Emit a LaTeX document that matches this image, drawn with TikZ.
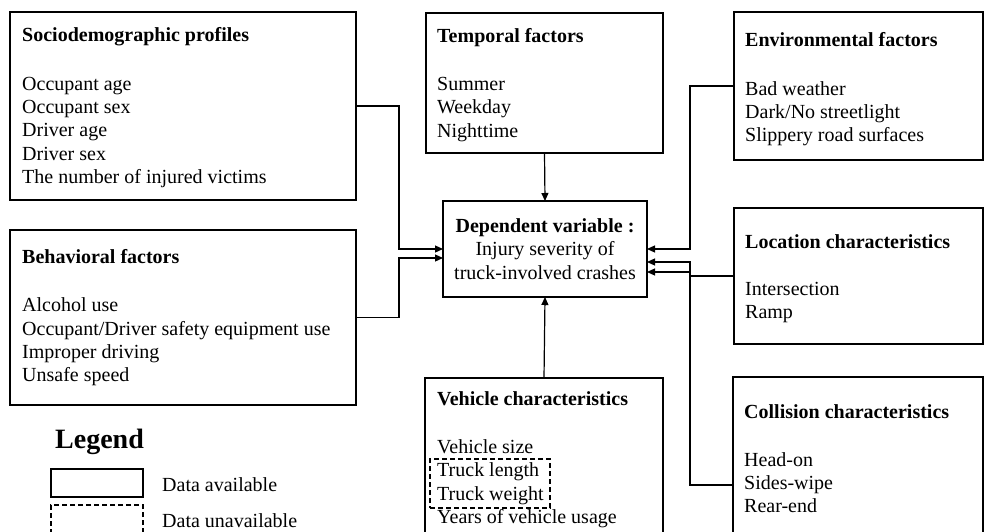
\documentclass[tikz,border=0pt]{standalone}
\usepackage{fontspec}
\setmainfont{Liberation Serif}
\usetikzlibrary{arrows.meta}
\begin{document}
\begin{tikzpicture}[x=1pt,y=-1pt,
  box/.style={draw, line width=1.2pt, inner sep=0pt, outer sep=0pt, anchor=north west},
  dbox/.style={box, dash pattern=on 5pt off 3pt},
  txt/.style={font=\fontsize{20}{23.3}\selectfont, inner sep=0pt, anchor=base west, align=left},
  arr/.style={line width=1.2pt, -{Triangle[length=8pt,width=7pt]}}]
\useasboundingbox (0,0) rectangle (984,532);
% boxes
\node[box, minimum width=346, minimum height=188] (socio) at (10,12) {};
\node[box, minimum width=237, minimum height=140] (temp) at (426,13) {};
\node[box, minimum width=249, minimum height=148] (env) at (734,12) {};
\node[box, minimum width=204, minimum height=96] (dep) at (443,201) {};
\node[box, minimum width=346, minimum height=175] (beh) at (10,230) {};
\node[box, minimum width=249, minimum height=136] (loc) at (734,208) {};
\node[box, minimum width=250, minimum height=216] (coll) at (733,377) {};
\node[box, minimum width=238, minimum height=222] (veh) at (425,378) {};
\node[dbox, minimum width=120, minimum height=49] (vdash) at (430,459) {};
% texts (anchor = baseline of the last line)
\node[txt] (sociot) at (22,183.3) {\textbf{Sociodemographic profiles}\\[25pt]Occupant age\\Occupant sex\\Driver age\\Driver sex\\The number of injured victims};
\node[txt] (tempt) at (437,137) {\textbf{Temporal factors}\\[25pt]Summer\\Weekday\\Nighttime};
\node[txt] (envt) at (745,141.7) {\textbf{Environmental factors}\\[25pt]Bad weather\\Dark/No streetlight\\Slippery road surfaces};
\node[txt] (beht) at (22,381.7) {\textbf{Behavioral factors}\\[25pt]Alcohol use\\Occupant/Driver safety equipment use\\Improper driving\\Unsafe speed};
\node[txt] (loct) at (745,318.8) {\textbf{Location characteristics}\\[23.5pt]Intersection\\Ramp};
\node[txt] (collt) at (744,512.7) {\textbf{Collision characteristics}\\[24.5pt]Head-on\\Sides-wipe\\Rear-end};
\node[txt] (veht) at (437,523.3) {\textbf{Vehicle characteristics}\\[25pt]Vehicle size\\Truck length\\Truck weight\\Years of vehicle usage};
\node[txt, anchor=base, align=center] (dept) at (545,279) {\textbf{Dependent variable :}\\Injury severity of\\truck-involved crashes};
% connectors
\coordinate (jl) at (399,0);
\coordinate (jr) at (690,0);
\draw[arr] (socio.east) -| (jl |- dep.west) -- (dep.west);
\draw[arr] (beh.east) -| ([yshift=-9pt]jl |- dep.west) -- ([yshift=-9pt]dep.west);
\draw[arr] (env.west) -| (jr |- dep.east) -- (dep.east);
\draw[arr] (coll.west) -| ([yshift=-13pt]jr |- dep.east) -- ([yshift=-13pt]dep.east);
\draw[arr] (loc.west) -| ([yshift=-23pt]jr |- dep.east) -- ([yshift=-23pt]dep.east);
\draw[arr] (temp.south) -- (dep.north);
\draw[arr] (veh.north) -- (dep.south);
% legend
\node[inner sep=0pt, anchor=base west, font=\fontsize{28}{32}\selectfont\bfseries] (legt) at (55,448.3) {Legend};
\node[box, minimum width=92, minimum height=28] (legsolid) at (51,469) {};
\node[dbox, minimum width=92, minimum height=40] (legdash) at (51,505) {};
\node[txt] (legsolidt) at (162,491.7) {Data available};
\node[txt] (legdasht) at (162,527.7) {Data unavailable};
\end{tikzpicture}
\end{document}
